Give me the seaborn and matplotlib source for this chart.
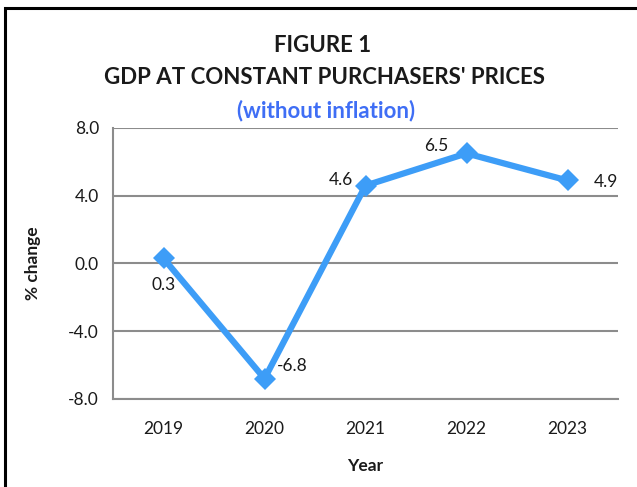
import matplotlib
matplotlib.use("Agg")
import matplotlib.pyplot as plt
import seaborn as sns
import pandas as pd
from matplotlib.patches import Rectangle

years = ["2019", "2020", "2021", "2022", "2023"]
values = [0.3, -6.8, 4.6, 6.5, 4.9]
yticks = [-8.0, -4.0, 0.0, 4.0, 8.0]
label_offsets = [(0, -19), (20, 9), (-18, 4), (-22, 5), (28, -1)]

sns.set_theme(style="white")
plt.rcParams['font.family'] = ['Lato', 'DejaVu Sans']

df = pd.DataFrame({"Year": years, "Value": values})

fig = plt.figure(figsize=(6.37, 4.87), dpi=100)
ax = fig.add_axes([0.1774, 0.1807, 0.7928, 0.5565])

sns.lineplot(data=df, x="Year", y="Value", ax=ax, color="#3d9df7", linewidth=4.5,
             marker="D", markersize=11, markeredgewidth=0, sort=False)

ax.set_ylim(-8, 8)
ax.set_xlim(-0.5, 4.5)
ax.set_yticks(yticks)
ax.set_yticklabels([f"{v:.1f}" for v in yticks])
ax.yaxis.grid(True, color="#8c8c8c", linewidth=1.5)
ax.xaxis.grid(False)
for s in ["top", "right"]:
    ax.spines[s].set_visible(False)
for s in ["left", "bottom"]:
    ax.spines[s].set_color("#8c8c8c")
    ax.spines[s].set_linewidth(1.5)
ax.tick_params(axis="both", labelsize=12.5, colors="#1a1a1a", length=0)
ax.tick_params(axis="x", pad=16)
ax.tick_params(axis="y", pad=10)
ax.set_xlabel("Year", fontsize=12.5, fontweight="bold", color="#1a1a1a", labelpad=15)
ax.set_ylabel("% change", fontsize=12.5, fontweight="bold", color="#1a1a1a", labelpad=20)

for i, (v, off) in enumerate(zip(values, label_offsets)):
    ax.annotate(f"{v:.1f}", (i, v), xytext=off, textcoords="offset points",
                ha="center", va="center", fontsize=12.5, color="#1a1a1a")

fig.text(0.506, 0.907, "FIGURE 1", ha="center", va="center", fontsize=16,
         fontweight="bold", color="#1a1a1a")
fig.text(0.510, 0.840, "GDP AT CONSTANT PURCHASERS' PRICES", ha="center", va="center",
         fontsize=16, fontweight="bold", color="#1a1a1a")
fig.text(0.512, 0.773, "(without inflation)", ha="center", va="center", fontsize=16,
         fontweight="bold", color="#3f6ef5")

fig.patches.append(Rectangle((5/637, -0.1), 1.2, 1 - 8/487 + 0.1, transform=fig.transFigure,
                             fill=False, edgecolor="black", linewidth=2.2))

fig.savefig("out.png", dpi=100)
